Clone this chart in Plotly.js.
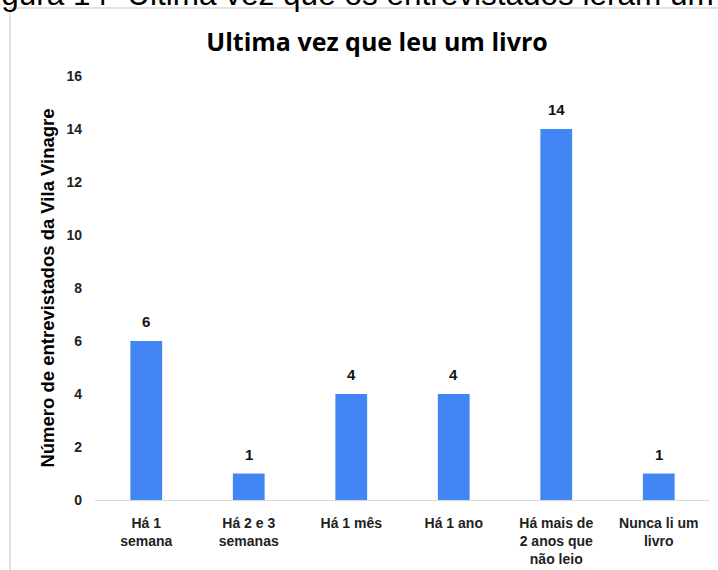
<!DOCTYPE html>
<html><head><meta charset="utf-8">
<script src="https://cdn.plot.ly/plotly-3.0.1.min.js"></script>
<style>html,body{margin:0;padding:0;background:#fff;overflow:hidden}</style>
</head><body>
<div id="chart" style="width:718px;height:570px"></div>
<script>
const categories = ["Há 1<br>semana", "Há 2 e 3<br>semanas", "Há 1 mês", "Há 1 ano", "Há mais de<br>2 anos que<br>não leio", "Nunca li um<br>livro"];
const values = [6, 1, 4, 4, 14, 1];
const yTicks = [0, 2, 4, 6, 8, 10, 12, 14, 16];
const chartTitle = "Ultima vez que leu um livro";
const yTitle = "Número de entrevistados da Vila Vinagre";
const caption = "Figura 14- Última vez que os entrevistados leram um livro";

const W = 718, H = 570, L = 95, R = 8, T = 76, B = 70;
const pw = W - L - R, ph = H - T - B;
const px = x => (x - L) / pw;
const py = y => (H - B - y) / ph;

const F = "Liberation Sans, Arial, sans-serif";
const valueLabels = categories.map((c, i) => ({
  x: c, y: values[i], xref: "x", yref: "y", text: String(values[i]),
  showarrow: false, yanchor: "bottom", yshift: 9,
  font: {family: F, size: 15, weight: "bold", color: "#111"}
}));
Plotly.newPlot("chart", [{
  type: "bar", x: categories, y: values,
  marker: {color: "#4285F4"},
  width: 0.31,
  hoverinfo: "none"
}], {
  width: W, height: H,
  margin: {l: L, r: R, t: T, b: B, pad: 0},
  paper_bgcolor: "#fff", plot_bgcolor: "#fff",
  showlegend: false,
  font: {family: F, color: "#222"},
  title: {text: chartTitle, font: {family: "Open Sans, sans-serif", size: 25, weight: "bold", color: "#000"}, x: 377 / W, xanchor: "center", y: 1 - 42 / H, yanchor: "middle"},
  xaxis: {tickfont: {family: F, size: 14, weight: "bold", color: "#222"}, showline: true, linecolor: "#d9d9d9", linewidth: 1, ticks: "", showgrid: false, ticklabelstandoff: 10, fixedrange: true},
  yaxis: {range: [0, 16], tickvals: yTicks, tickfont: {family: F, size: 14, weight: "bold", color: "#222"}, showgrid: false, zeroline: false, showline: false, ticks: "", ticklabelstandoff: 12,
    title: {text: yTitle, font: {family: F, size: 18.5, weight: "bold", color: "#000"}, standoff: 6}, fixedrange: true},
  shapes: [{type: "rect", xref: "paper", yref: "paper", x0: px(10), x1: px(760), y0: py(620), y1: py(8), line: {color: "#d9d9d9", width: 1.5}, fillcolor: "rgba(0,0,0,0)", layer: "below"}],
  annotations: [{text: caption, xref: "paper", yref: "paper", x: px(-27), xanchor: "left", y: py(14), yanchor: "bottom", showarrow: false, font: {family: F, size: 31.5, color: "#000"}}].concat(valueLabels)
}, {displayModeBar: false, staticPlot: true});
</script>
</body></html>
